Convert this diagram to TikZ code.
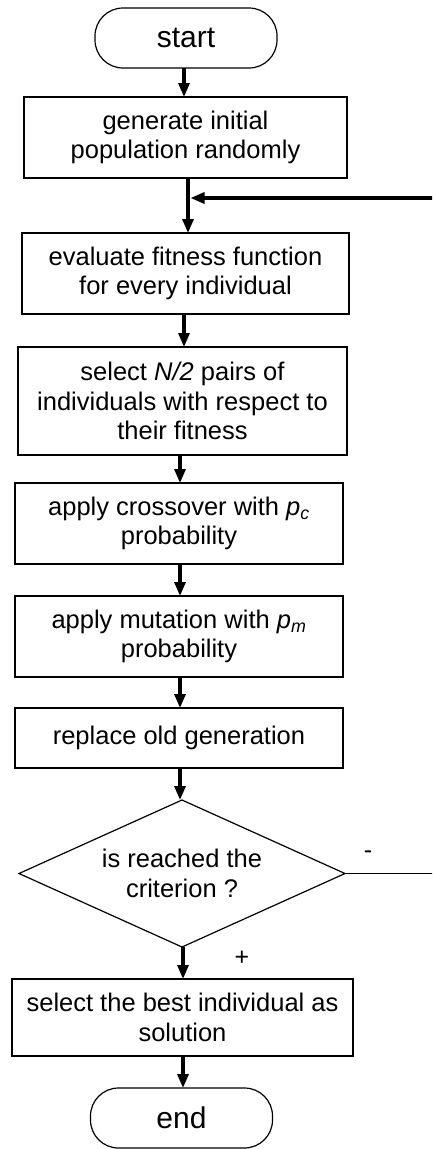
\documentclass[tikz,border=0pt]{standalone}
\usepackage{fontspec}
\setmainfont{Liberation Sans}
\usetikzlibrary{arrows.meta,shapes.geometric}
\begin{document}
\begin{tikzpicture}[x=1pt,y=-1pt,
  every node/.style={inner sep=0pt, outer sep=0pt},
  boxtext/.style={font=\fontsize{25.5}{29.5}\selectfont, align=center},
  proc/.style={boxtext, draw=black, line width=1.2pt, rectangle},
  term/.style={draw=black, line width=1.2pt, rectangle, rounded corners=28pt, font=\fontsize{30}{34}\selectfont},
  decis/.style={boxtext, draw=black, line width=1.2pt, diamond, aspect=2.2},
  arr/.style={line width=3.2pt, -{Triangle[length=14pt,width=11pt]}},
  thinline/.style={line width=1.2pt},
  lbl/.style={font=\fontsize{25}{29}\selectfont}]
\useasboundingbox (0,0) rectangle (432,1149);
\fill[white] (0,0) rectangle (432,1149);
\clip (0,0) rectangle (432,1149);

\node[term, minimum width=182pt, minimum height=60pt] (start) at (186,38) {start};
\node[proc, minimum width=323pt, minimum height=81pt] (gen) at (185.5,137.5) {generate initial\\population randomly};
\node[proc, minimum width=327pt, minimum height=81pt] (eval) at (185.5,273.5) {evaluate fitness function\\for every individual};
\node[proc, minimum width=329pt, minimum height=108pt] (sel) at (182.5,401) {select \textit{N/2} pairs of\\individuals with respect to\\their fitness};
\node[proc, minimum width=328pt, minimum height=81pt] (cross) at (179,523.5) {apply crossover with {\itshape p\textsubscript{c}}\\probability};
\node[proc, minimum width=328pt, minimum height=81pt] (mut) at (179,636.5) {apply mutation with {\itshape p\textsubscript{m}}\\probability};
\node[proc, minimum width=328pt, minimum height=60pt] (repl) at (179,738) {replace old generation};
\node[decis, minimum width=326pt, minimum height=147pt] (dia) at (182,873.5) {is reached the\\criterion ?};
\node[proc, minimum width=341pt, minimum height=77pt] (final) at (182.5,1017.5) {select the best individual as\\solution};
\node[term, minimum width=182pt, minimum height=60pt] (end) at (181.5,1118) {end};

\node[lbl] (minus) at (368,855) {-};
\node[lbl] (plus) at (242,958) {+};

\coordinate (fbR) at (445,873.5);
\coordinate (fbT) at (445,198);
\coordinate (join) at (190.5,198);

\draw[arr] ([xshift=-2pt]start.south) -- ([xshift=-1.5pt]gen.north);
\draw[arr] ([xshift=2.5pt]gen.south) -- ([xshift=2.5pt]eval.north);
\draw[arr] ([xshift=-1.5pt]eval.south) -- ([xshift=1.5pt]sel.north);
\draw[arr] ([xshift=-2.5pt]sel.south) -- ([xshift=1pt]cross.north);
\draw[arr] ([xshift=1pt]cross.south) -- ([xshift=1pt]mut.north);
\draw[arr] ([xshift=1pt]mut.south) -- ([xshift=1pt]repl.north);
\draw[arr] ([xshift=1pt]repl.south) -- ([xshift=1pt]repl.south |- dia.north);
\draw[arr] ([xshift=1pt]dia.south) -- ([xshift=0.5pt]final.north);
\draw[arr] ([xshift=0.5pt]final.south) -- ([xshift=1.5pt]end.north);

\draw[thinline] (dia.east) -- (fbR) -- (fbT);
\draw[arr] (fbT) -- (join);
\end{tikzpicture}
\end{document}
